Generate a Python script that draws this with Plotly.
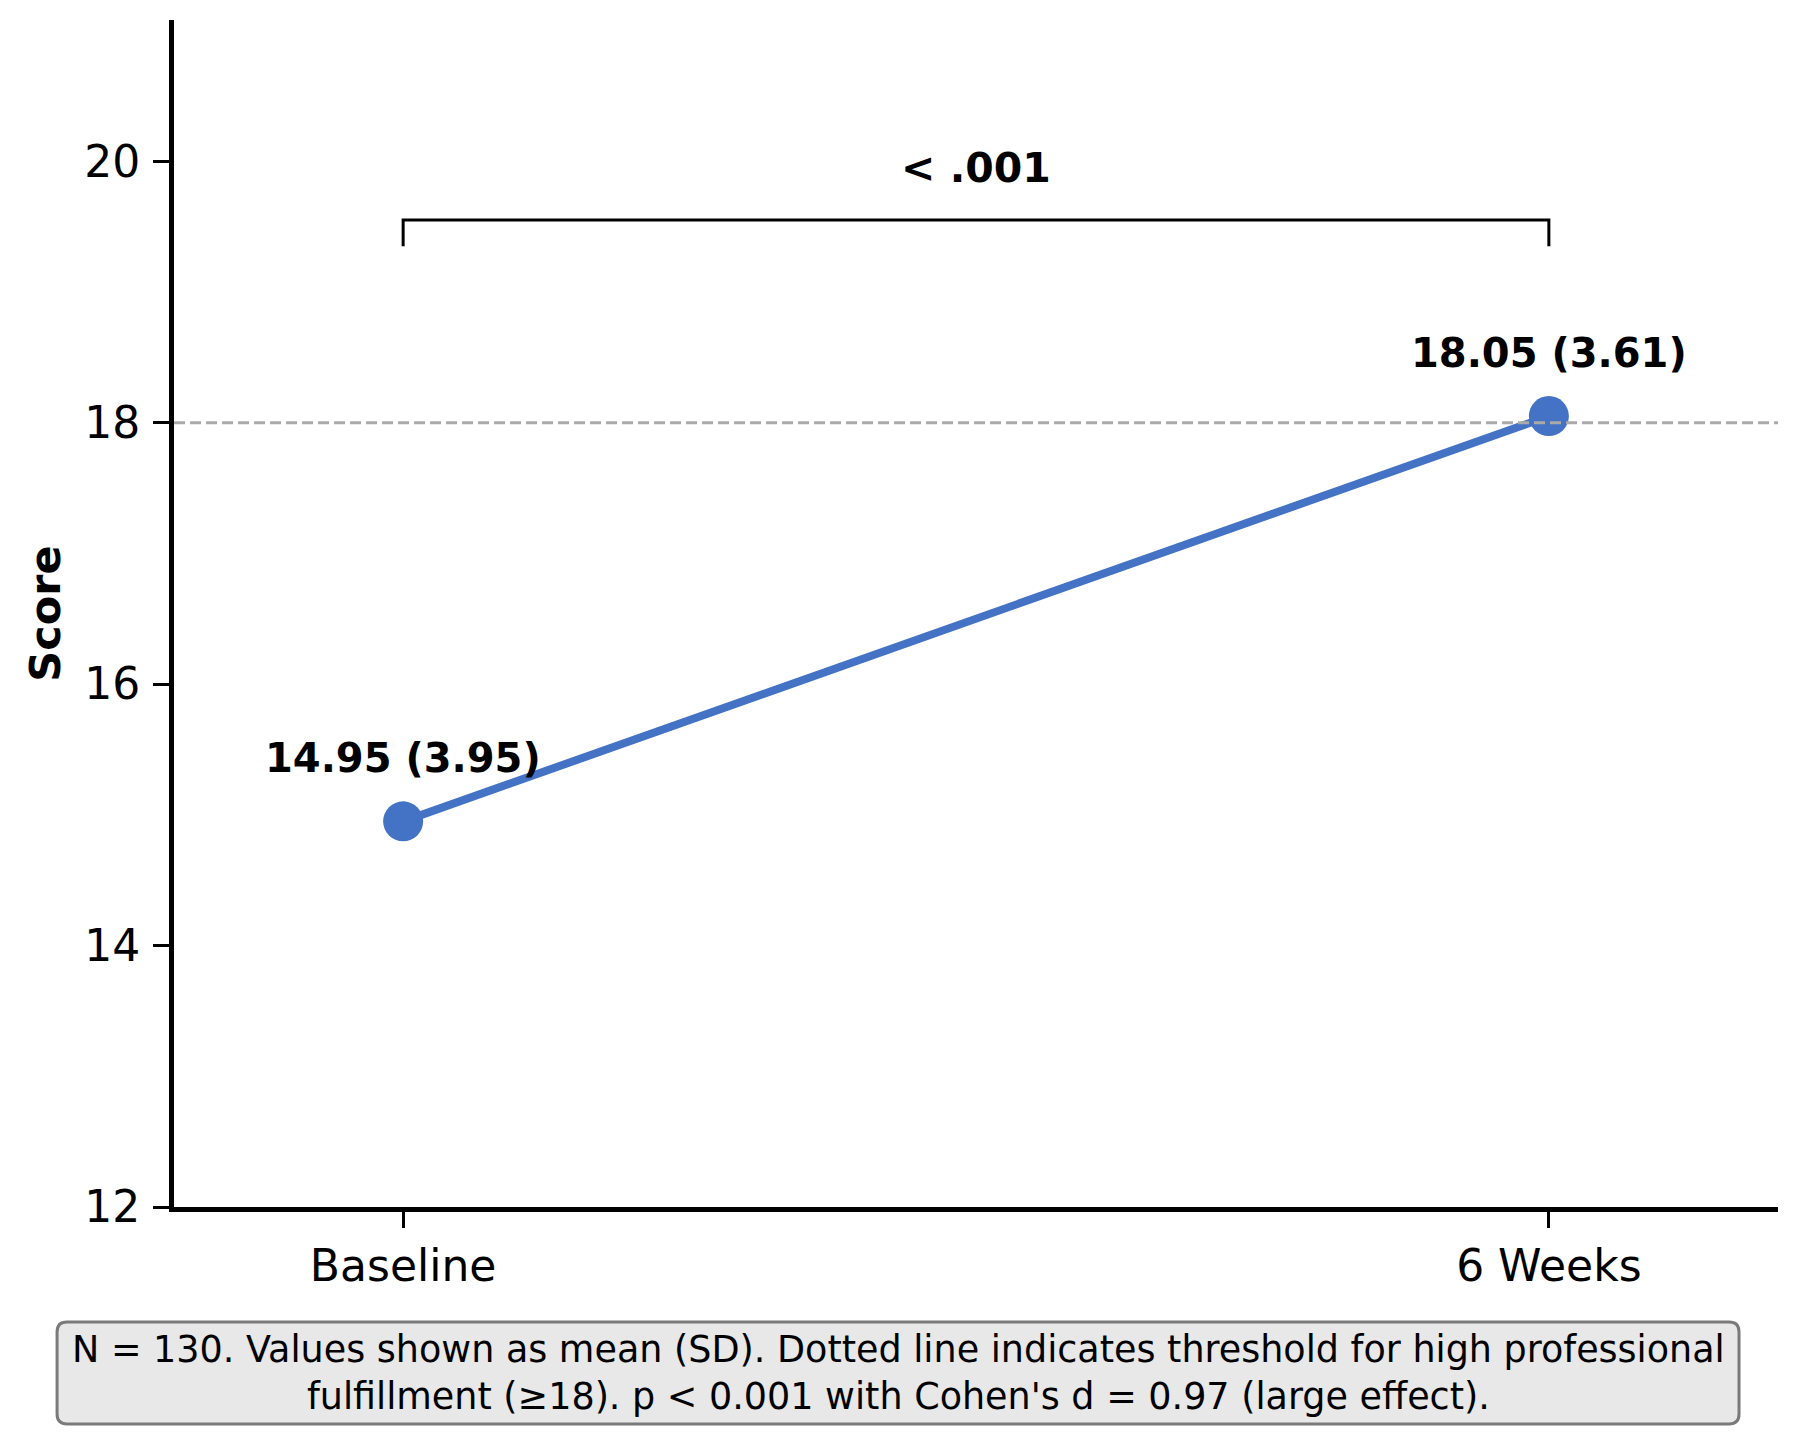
import plotly.graph_objects as go

# data
timepoints = ["Baseline", "6 Weeks"]
means = [14.95, 18.05]
sds = [3.95, 3.61]
threshold = 18
p_label = "< .001"
note = ("N = 130. Values shown as mean (SD). Dotted line indicates threshold for high professional<br>"
        "fulfillment (≥18). p < 0.001 with Cohen's d = 0.97 (large effect).")

blue = "#4472C4"
font = "DejaVu Sans"

fig = go.Figure()

fig.add_trace(go.Scatter(
    x=timepoints, y=means, mode="lines+markers",
    line=dict(color=blue, width=8),
    marker=dict(color=blue, size=40),
    showlegend=False, hoverinfo="skip",
))

# mean (SD) labels above points
for t, m, s in zip(timepoints, means, sds):
    fig.add_annotation(
        x=t, y=m, text=f"<b>{m:.2f} ({s:.2f})</b>", showarrow=False,
        yshift=63, font=dict(family=font, size=40, color="black"),
    )

# threshold line
fig.add_shape(type="line", xref="paper", x0=0, x1=1, y0=threshold, y1=threshold,
              line=dict(color="#aaaaaa", width=3, dash="11px,5px"))

# significance bracket
bracket_y = max(means) + 1.5
fig.add_shape(type="path", xref="x", yref="y",
              path=f"M 0,{bracket_y - 0.2} L 0,{bracket_y} L 1,{bracket_y} L 1,{bracket_y - 0.2}",
              line=dict(color="black", width=3))
fig.add_annotation(x=0.5, y=bracket_y + 0.4, xref="x", yref="y", text=f"<b>{p_label}</b>",
                   showarrow=False, font=dict(family=font, size=41, color="black"))

# note box with rounded corners
x0, x1, y0, y1, rx, ry = -0.0729, 0.9757, -0.1828, -0.0969, 0.0062, 0.0084
fig.add_shape(
    type="path", xref="paper", yref="paper",
    path=(f"M {x0+rx},{y1} L {x1-rx},{y1} Q {x1},{y1} {x1},{y1-ry} "
          f"L {x1},{y0+ry} Q {x1},{y0} {x1-rx},{y0} L {x0+rx},{y0} "
          f"Q {x0},{y0} {x0},{y0+ry} L {x0},{y1-ry} Q {x0},{y1} {x0+rx},{y1} Z"),
    fillcolor="#e8e8e8", line=dict(color="#7a7a7a", width=3), layer="below",
)
fig.add_annotation(x=(x0 + x1) / 2, y=(y0 + y1) / 2, xref="paper", yref="paper",
                   xanchor="center", yanchor="middle",
                   text=note, showarrow=False, align="center",
                   font=dict(family=font, size=36.5, color="black"))

fig.update_layout(
    width=1801, height=1440,
    margin=dict(l=174, r=23, t=20, b=233, autoexpand=False),
    plot_bgcolor="white", paper_bgcolor="white",
    font=dict(family=font, color="black"),
    xaxis=dict(range=[-0.2, 1.2], showgrid=False, zeroline=False, automargin=False,
               showline=True, linecolor="black", linewidth=5,
               ticks="outside", ticklen=16, tickwidth=2.5, tickcolor="black",
               tickfont=dict(size=44)),
    yaxis=dict(range=[12, 21.08], showgrid=False, zeroline=False, automargin=False,
               showline=True, linecolor="black", linewidth=5,
               ticks="outside", ticklen=16, tickwidth=2.5, tickcolor="black",
               ticklabelstandoff=4,
               tickvals=[12, 14, 16, 18, 20], tickfont=dict(size=44),
               title=dict(text="<b>Score</b>", font=dict(size=43), standoff=12)),
)

fig.write_html("out.html", config={"displayModeBar": False},
               post_script="document.body.style.margin='0px';")
